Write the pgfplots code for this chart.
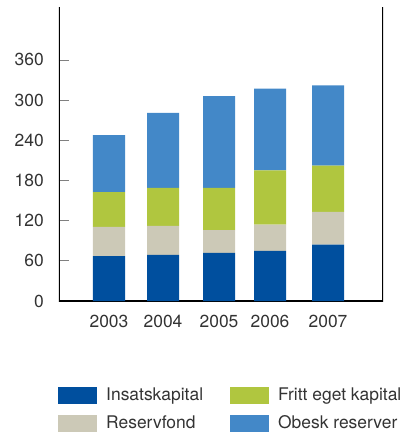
\documentclass[border=0pt]{standalone}
\usepackage{fontspec}
\setmainfont{TeX Gyre Heros}
\usepackage{pgfplots}
\pgfplotsset{compat=1.18}
\definecolor{cA}{HTML}{004F9E}
\definecolor{cB}{HTML}{CCC9B7}
\definecolor{cC}{HTML}{B0C63F}
\definecolor{cD}{HTML}{4388C8}
\definecolor{txt}{HTML}{333333}
\pgfplotsset{boxleg/.style={legend image code/.code={\fill[##1] (0bp,-8.5bp) rectangle (39bp,8.5bp);}}}
\begin{document}
\fontsize{17.5}{20}\selectfont
\begin{tikzpicture}
\begin{axis}[
 at={(0,0)}, anchor=south west,
 scale only axis, width=324bp, height=294bp,
 xmin=59, xmax=383, ymin=0, ymax=439,
 ybar stacked, bar width=32,
 xtick={109,163,219,270,328}, xticklabels={2003,2004,2005,2006,2007},
 ytick={0,60,120,180,240,300,360},
 axis line style={draw=none},
 tick align=inside, ytick pos=left, major tick length=10bp,
 ytick style={color=gray, line width=0.8bp}, xtick style={draw=none},
 /pgf/number format/assume math mode=true,
 ticklabel style={font=\fontsize{17.5}{20}\selectfont, text=txt},
 yticklabel style={inner sep=0pt, xshift=-15bp},
 xticklabel style={inner sep=0pt, yshift=-14bp},
 legend columns=2, transpose legend,
 legend style={at={(-0.003,-0.292)}, anchor=north west, draw=none, fill=none,
   inner sep=0pt, font=\fontsize{17.5}{20}\selectfont, text=txt,
   row sep=11bp, nodes={inner sep=0pt},
   /tikz/every odd column/.append style={column sep=9bp},
   /tikz/every even column/.append style={column sep=27bp}},
 legend cell align=left,
]
\addplot[fill=cA, draw=none, boxleg] coordinates {(109,67) (163,69) (219,72) (270,75) (328,84)};
\addplot[fill=cB, draw=none, boxleg] coordinates {(109,43.5) (163,43) (219,34) (270,39) (328,49)};
\addplot[fill=cC, draw=none, boxleg] coordinates {(109,52) (163,57) (219,63) (270,81) (328,69)};
\addplot[fill=cD, draw=none, boxleg] coordinates {(109,85) (163,112) (219,137) (270,122) (328,120)};
\legend{Insatskapital,Reservfond,Fritt eget kapital,Obesk reserver}
\draw[line width=3bp] (rel axis cs:0,1) -- (rel axis cs:0,0) -- (rel axis cs:1,0) -- (rel axis cs:1,1);
\end{axis}
\pgfresetboundingbox
\path (-59bp,-133bp) rectangle (347bp,301bp);
\end{tikzpicture}
\end{document}
